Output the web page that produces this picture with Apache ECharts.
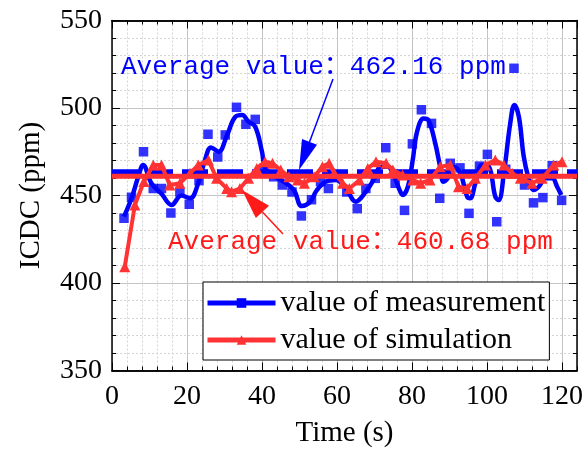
<!DOCTYPE html>
<html>
<head>
<meta charset="utf-8">
<script src="https://cdn.jsdelivr.net/npm/echarts@6/dist/echarts.min.js"></script>
<style>
  html, body { margin: 0; background: #fff; }
  #chart { width: 584px; height: 449px; }
</style>
</head>
<body>
<div id="chart"></div>
<script>
// measured points (squares)
const measX = [3.2, 5.2, 8.4, 11, 13.2, 15.7, 18.1, 20.6, 23.2, 25.6, 28.2, 30.2, 33.2, 35.7, 38.2, 40.5,
  43.1, 45.4, 48, 50.5, 53.2, 55.6, 57.7, 60.1, 62.6, 65.4, 67.7, 70.2, 73, 75.5, 78, 80.1, 82.5, 85.2,
  87.4, 90.2, 92.8, 95.2, 98, 100.1, 102.6, 105, 107.2, 110, 112.4, 114.9, 117.4, 119.9];
const measY = [437, 449, 475, 454, 454, 440, 452, 445, 458.5, 485, 472, 484.6, 500.4, 490.7, 493.5, 465.5,
  460.7, 456, 452, 438.3, 447.6, 457.9, 454, 461, 452, 442.5, 454, 459.8, 477.3, 457, 441.5, 479.5, 499, 491.2,
  448.4, 468.4, 465.8, 439.8, 466.8, 473.5, 435, 465, 522.7, 456, 445.8, 448.8, 467, 447.2];

const fitX = [3.2, 5.2, 7, 8.3, 10.5, 13.2, 15.9, 18.5, 20.8, 23, 24.8, 26.4, 28.4, 30.7, 32.9, 34.7, 36.4,
  38.2, 40, 40.9, 43.6, 45.8, 48.5, 50.6, 52.9, 54.6, 57, 59.7, 62.4, 65, 67.7, 70, 71.7, 73.5, 75.3, 76.7,
  77.5, 78.9, 80.2, 81.3, 83.1, 84.4, 86.2, 87.5, 88.4, 89.8, 91.1, 92.9, 94.7, 95.5, 96.9, 98.7, 100.5,
  102.2, 103.1, 104.5, 106.2, 107.3, 108.5, 109.8, 111.1, 112.5, 113.8, 115.6, 117.4, 118.7, 119.8];
const fitY = [437.9, 448.4, 460.7, 467.4, 457, 451, 444.6, 450, 448.4, 457, 470.3, 477.5, 475, 484.6, 495, 496,
  492.2, 489.3, 475, 465.5, 460.7, 457.9, 453.1, 444, 446.5, 453, 457.9, 458.9, 454, 446.5, 452.2, 459.8, 466.5,
  466.5, 460.7, 453.1, 450.3, 455, 470.3, 486, 494, 493, 479.8, 466.5, 457.9, 460.7, 466.5, 462.7, 449.3, 448.4,
  457, 467.4, 466.5, 449.3, 447.4, 462.7, 491.3, 501.7, 495, 472.2, 459.8, 453.1, 455, 459.8, 459.8, 455, 450.3];

// simulation (triangles)
const simX = [3.4, 6.1, 8.5, 11, 13.2, 15.4, 18.1, 20.8, 23, 25.7, 27.9, 30.6, 31.9, 34.1, 36.4, 38.6, 40.8,
  42.8, 45, 47.2, 49.5, 51.3, 53.9, 56.1, 57.9, 59.3, 61.5, 63.3, 66, 68.2, 70.4, 73.1, 74.9, 77.5, 80.2, 82.3,
  84.8, 87.5, 90.2, 92.4, 94.7, 96.9, 99.6, 102.2, 104.5, 106.7, 108.9, 112, 114.7, 117.8, 120];
const simY = [409.3, 444.6, 458, 467.4, 467.4, 456, 457, 462.7, 467.4, 470.3, 459.8, 454, 452.2, 454, 459.8,
  465.5, 469.3, 468.4, 464.6, 460.7, 458.9, 457, 460.7, 466.5, 468.4, 462.7, 457, 454, 458.9, 465.5, 469.3,
  468.4, 464.6, 461.7, 458.9, 457, 458.9, 466.5, 467.4, 455, 454, 459.8, 467.4, 470.3, 467.4, 462.7, 459.8,
  457, 459.8, 467.4, 469.3];

const avgMeasText = 'Average value：462.16 ppm';
const avgSimText = 'Average value：460.68 ppm';
const avgMeasLine = 463.6;   // where the thick lines sit in the picture
const avgSimLine = 461;

const BLUE = '#0000ff';
const RED = '#ff3333';
const serif = '"Liberation Serif", "Times New Roman", serif';
const mono = '"Liberation Mono", "Noto Sans CJK SC", monospace';

const pairs = (xs, ys) => xs.map((x, i) => [x, ys[i]]);
const hline = v => [[0, v], [124, v]];

// arrow as thin line plus filled head
function arrow(x1, y1, x2, y2, color, len, half) {
  const dx = x2 - x1, dy = y2 - y1, d = Math.hypot(dx, dy);
  const ux = dx / d, uy = dy / d;
  const bx = x2 - ux * len, by = y2 - uy * len;
  return [
    { type: 'line', shape: { x1, y1, x2: bx, y2: by }, style: { stroke: color, lineWidth: 1.5 }, z: 20 },
    { type: 'polygon', shape: { points: [[x2, y2], [bx - uy * half, by + ux * half], [bx + uy * half, by - ux * half]] },
      style: { fill: color }, z: 20 }
  ];
}

const frame = { show: true, onZero: false, lineStyle: { color: '#000', width: 1.5 } };
const minorGrid = { show: true, lineStyle: { color: '#d4d4d4', width: 1, type: [2, 2] } };
const majorGrid = { show: true, lineStyle: { color: '#c4c4c4', width: 1 } };
const tickLbl = { fontFamily: serif, fontSize: 28, color: '#000' };

const chart = echarts.init(document.getElementById('chart'));
chart.setOption({
  animation: false,
  grid: { left: 112, right: 7, top: 20.5, bottom: 78.5, outerBoundsMode: 'none', containLabel: false },
  xAxis: [
    { type: 'value', min: 0, max: 124, interval: 4, position: 'bottom', axisLine: frame,
      axisTick: { inside: true, length: 4, lineStyle: { color: '#000' } }, axisLabel: { show: false }, splitLine: minorGrid },
    { type: 'value', min: 0, max: 124, interval: 20, position: 'bottom', axisLine: frame,
      axisTick: { inside: true, length: 8, lineStyle: { color: '#000' } },
      axisLabel: Object.assign({ margin: 12, showMaxLabel: false }, tickLbl), splitLine: majorGrid,
      name: 'Time (s)', nameLocation: 'middle', nameGap: 48, nameTextStyle: { fontFamily: serif, fontSize: 29, color: '#000' } },
    { type: 'value', min: 0, max: 124, interval: 4, position: 'top', axisLine: frame,
      axisTick: { inside: true, length: 4, lineStyle: { color: '#000' } }, axisLabel: { show: false }, splitLine: { show: false } },
    { type: 'value', min: 0, max: 124, interval: 20, position: 'top', axisLine: frame,
      axisTick: { inside: true, length: 8, lineStyle: { color: '#000' } }, axisLabel: { show: false }, splitLine: { show: false } }
  ],
  yAxis: [
    { type: 'value', min: 350, max: 550, interval: 50, position: 'left', axisLine: frame,
      axisTick: { inside: true, length: 8, lineStyle: { color: '#000' } },
      minorTick: { show: true, splitNumber: 5, length: 4, lineStyle: { color: '#000' } },
      axisLabel: Object.assign({ margin: 10 }, tickLbl), splitLine: majorGrid, minorSplitLine: minorGrid,
      name: 'ICDC (ppm)', nameLocation: 'middle', nameGap: 66, nameTextStyle: { fontFamily: serif, fontSize: 29, color: '#000' } },
    { type: 'value', min: 350, max: 550, interval: 50, position: 'right', axisLine: frame,
      axisTick: { inside: true, length: 8, lineStyle: { color: '#000' } },
      minorTick: { show: true, splitNumber: 5, length: 4, lineStyle: { color: '#000' } },
      axisLabel: { show: false }, splitLine: { show: false } }
  ],
  legend: {
    left: 203, top: 282, orient: 'vertical', padding: [6, 4, 5, 2], itemGap: 7,
    itemWidth: 68, itemHeight: 12, backgroundColor: '#fff', borderColor: '#000', borderWidth: 1,
    lineStyle: { width: 5 },
    textStyle: { fontFamily: serif, fontSize: 30, color: '#000' },
    data: ['value of measurement', 'value of simulation']
  },
  series: [
    { type: 'line', xAxisIndex: 1, data: hline(avgMeasLine), symbol: 'none', silent: true, z: 1,
      lineStyle: { color: BLUE, width: 5, type: [26, 9] } },
    { name: 'value of measurement', type: 'line', xAxisIndex: 1, data: pairs(fitX, fitY), smooth: 0.4,
      symbol: 'square', symbolSize: 9, showSymbol: false, z: 2,
      itemStyle: { color: BLUE }, lineStyle: { color: BLUE, width: 4.5 } },
    { type: 'scatter', xAxisIndex: 1, data: pairs(measX, measY), symbol: 'square', symbolSize: 9.5, z: 3,
      itemStyle: { color: BLUE } },
    { type: 'line', xAxisIndex: 1, data: hline(avgSimLine), symbol: 'none', silent: true, z: 4,
      lineStyle: { color: RED, width: 5 } },
    { name: 'value of simulation', type: 'line', xAxisIndex: 1, data: pairs(simX, simY),
      symbol: 'triangle', symbolSize: 11, z: 5,
      itemStyle: { color: RED }, lineStyle: { color: RED, width: 4 } }
  ],
  graphic: [
    { type: 'text', x: 121, y: 54, z: 20, style: { text: avgMeasText, font: '26px ' + mono, fill: BLUE } },
    { type: 'text', x: 168, y: 229, z: 20, style: { text: avgSimText, font: '26px ' + mono, fill: '#ff1a1a' } },
    ...arrow(333, 79, 299, 170, BLUE, 30, 8),
    ...arrow(283, 234, 242, 190, '#ff1a1a', 30, 9)
  ]
});
</script>
</body>
</html>
